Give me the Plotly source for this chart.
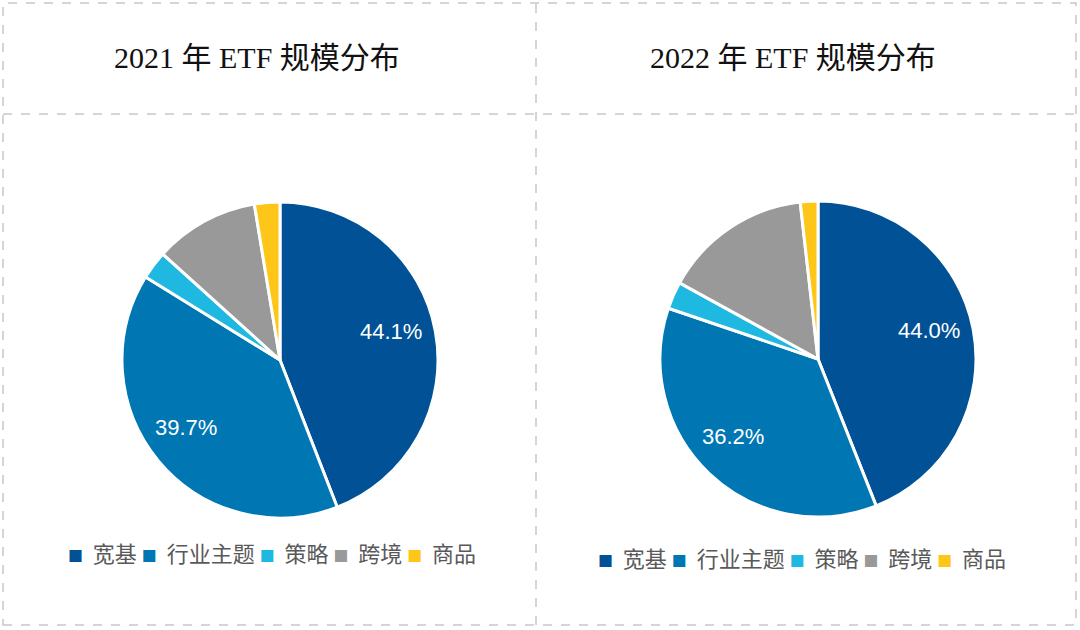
import math
import plotly.graph_objects as go

categories = ["宽基", "行业主题", "策略", "跨境", "商品"]
values_2021 = [44.1, 39.7, 2.9, 10.7, 2.6]
values_2022 = [44.0, 36.2, 2.8, 15.2, 1.8]
shown_labels = [True, True, False, False, False]
titles = ["2021 年 ETF 规模分布", "2022 年 ETF 规模分布"]
colors = ["#005195", "#0077B3", "#1EB8E0", "#999999", "#FFC61A"]

W, H = 1080, 630

def px(x):
    return x / W

def py(y):
    return 1 - y / H

panels = [
    dict(values=values_2021, title=titles[0], cx=280, cy=360, r=158, tx=257, legx=66, legy=552),
    dict(values=values_2022, title=titles[1], cx=818, cy=359, r=158, tx=793, legx=596, legy=557),
]

fig = go.Figure()

for p in panels:
    fig.add_trace(go.Pie(
        labels=categories, values=p["values"],
        textinfo="none", sort=False, direction="clockwise", rotation=0,
        marker=dict(colors=colors, line=dict(color="white", width=3)),
        domain=dict(x=[px(p["cx"] - p["r"]), px(p["cx"] + p["r"])],
                    y=[py(p["cy"] + p["r"]), py(p["cy"] - p["r"])]),
        showlegend=False, hoverinfo="label+percent",
    ))
    # percentage labels for the two largest slices, placed near the mid-angle of each slice
    total = sum(p["values"])
    cum = 0.0
    for v, show in zip(p["values"], shown_labels):
        mid = (cum + v / 2) / total * 2 * math.pi
        cum += v
        if not show:
            continue
        rr = 0.74 * p["r"]
        lx = p["cx"] + rr * math.sin(mid)
        ly = p["cy"] - rr * math.cos(mid)
        fig.add_annotation(text=f"{v / total * 100:.1f}%", x=px(lx), y=py(ly),
                           xref="paper", yref="paper", showarrow=False, yshift=7, xshift=-4,
                           font=dict(family="Liberation Sans, Arial, sans-serif", size=22, color="white"),
                           xanchor="center", yanchor="middle")
    # title
    fig.add_annotation(text=p["title"], x=px(p["tx"]), y=py(57), xref="paper", yref="paper",
                       showarrow=False, xanchor="center", yanchor="middle",
                       font=dict(family="Liberation Serif, Times New Roman, Noto Sans CJK SC, serif",
                                 size=30, color="#111111"))
    # legend row
    parts = []
    for c, col in zip(categories, colors):
        parts.append(f"<span style='color:{col};font-size:15px'>■</span>&nbsp;&nbsp;{c}")
    fig.add_annotation(text="&nbsp;".join(parts), x=px(p["legx"]), y=py(p["legy"]),
                       xref="paper", yref="paper", showarrow=False,
                       xanchor="left", yanchor="middle",
                       font=dict(family="Noto Sans CJK SC, sans-serif", size=22, color="#595959"))

fig.update_layout(
    width=W, height=H,
    margin=dict(l=0, r=0, t=0, b=0),
    paper_bgcolor="white", plot_bgcolor="white",
    showlegend=False,
)

dash_line = dict(color="#c8c8c8", width=1.5, dash="dash")
fig.add_shape(type="rect", xref="paper", yref="paper", x0=px(3), x1=px(1076), y0=py(625), y1=py(3), line=dash_line)
fig.add_shape(type="line", xref="paper", yref="paper", x0=px(536), x1=px(536), y0=py(625), y1=py(3), line=dash_line)
fig.add_shape(type="line", xref="paper", yref="paper", x0=px(3), x1=px(1076), y0=py(114), y1=py(114), line=dash_line)

fig.write_html("out.html")
